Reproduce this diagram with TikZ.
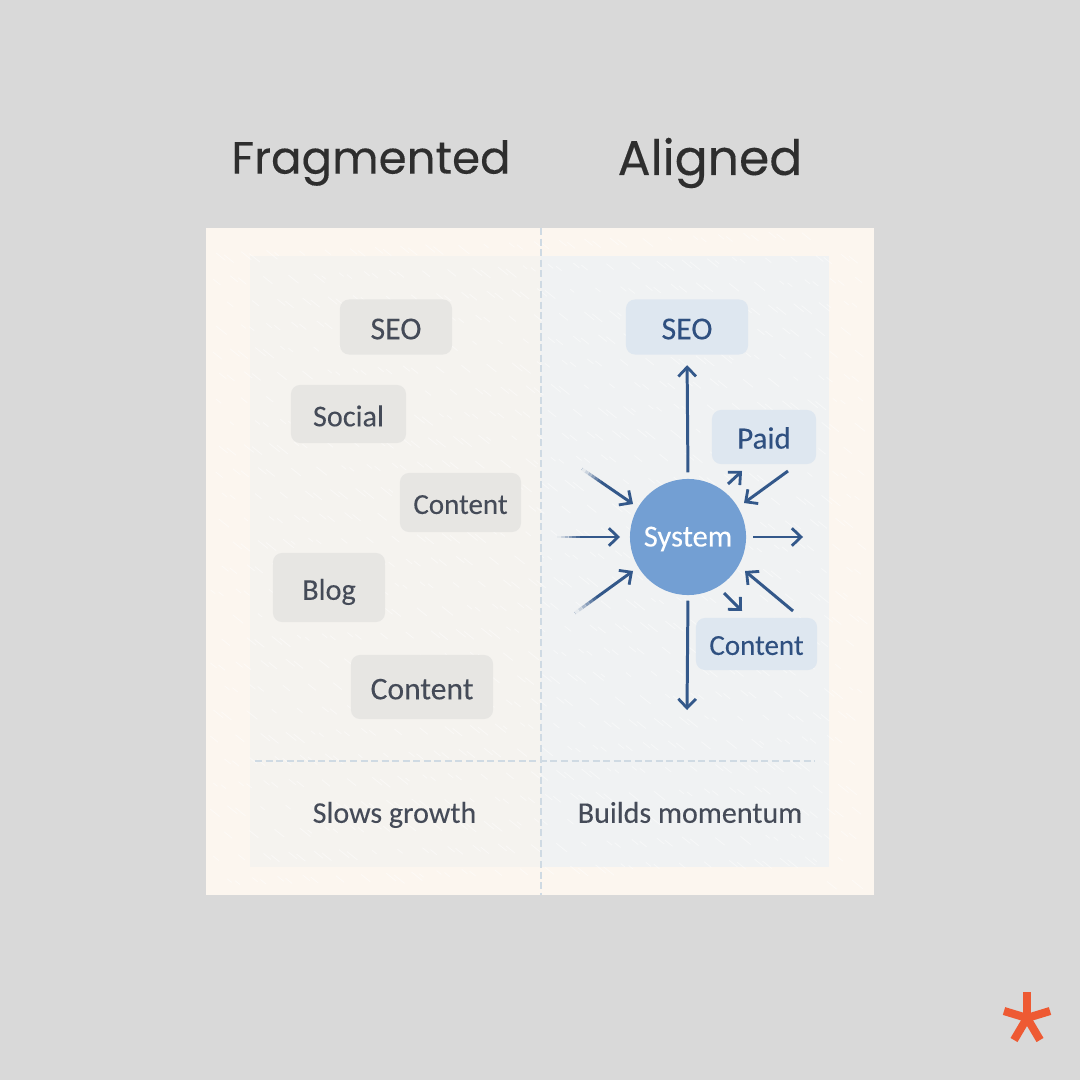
\documentclass[tikz,border=0pt]{standalone}
\usepackage{fontspec}
\usetikzlibrary{arrows.meta,calc}
\setmainfont[FakeBold=0.12]{Carlito}
\newfontfamily\titlefont[FakeBold=0.25]{Poppins}
\definecolor{bgc}{HTML}{D9D9D9}
\definecolor{paper}{HTML}{FCF6EF}
\definecolor{lpanel}{HTML}{F5F3EF}
\definecolor{rpanel}{HTML}{F0F2F3}
\definecolor{lbox}{HTML}{E7E6E3}
\definecolor{rbox}{HTML}{DEE7F0}
\definecolor{disc}{HTML}{739FD3}
\definecolor{ink}{HTML}{454B58}
\definecolor{blueink}{HTML}{2F5080}
\definecolor{arrowc}{HTML}{33588A}
\definecolor{dashc}{HTML}{CFDAE3}
\definecolor{starc}{HTML}{EE5A33}
\tikzset{
  x=0.01cm,y=-0.01cm,
  titletext/.style={text=black!82},
  leftbox/.style={fill=lbox,rounded corners=0.09cm,inner sep=0pt,text=ink,text height=7pt,text depth=0pt},
  rightbox/.style={fill=rbox,rounded corners=0.09cm,inner sep=0pt,text=blueink,text height=7pt,text depth=0pt},
  foottext/.style={font=\fontsize{8.55}{10}\selectfont,text=ink,text height=7pt,text depth=0pt},
  arr/.style={draw=arrowc,line width=0.85pt,-{Straight Barb[length=2.6pt,width=5pt,line width=0.8pt]}},
  guide/.style={draw=dashc,line width=0.3pt,dash pattern=on 2pt off 1pt},
  tailfade/.style={draw=rpanel,line width=1.3pt},
  starline/.style={draw=starc,line width=2.3pt},
}
\newcommand{\fadetail}[2]{%
  \foreach \s/\op in {0/0.95,0.06/0.8,0.12/0.62,0.18/0.45,0.24/0.28,0.30/0.12}{
    \path[tailfade,draw opacity=\op] ($(#1)!\s!(#2)$) -- ($(#1)!\s+0.065!(#2)$);
  }}
\begin{document}
\begin{tikzpicture}
\useasboundingbox (0,0) rectangle (1080,1080);
\fill[bgc] (0,0) rectangle (1080,1080);
\fill[paper] (206,228) rectangle (874,895);
\fill[lpanel] (250,256) rectangle (541,867);
\fill[rpanel] (541,256) rectangle (829,867);
% paper grain
\foreach \i in {1,...,1100}{
  \pgfmathsetmacro{\gx}{210+650*mod(\i*0.618034,1)}
  \pgfmathsetmacro{\gy}{232+650*mod(\i*0.754878,1)}
  \pgfmathsetmacro{\gl}{4+7*mod(\i*0.569840,1)}
  \draw[white,line width=0.25pt,opacity=0.45] (\gx,\gy) -- ++(\gl,\gl*0.8);
}
% titles
\node[titletext,font=\titlefont\fontsize{12.85}{16}\selectfont] (tleft) at (371,163) {Fragmented};
\node[titletext,font=\titlefont\fontsize{13.9}{16}\selectfont] (tright) at (710,163) {Aligned};
% dividers
\coordinate (vtop) at (541,228);
\coordinate (vbot) at (541,895);
\coordinate (hl) at (255,761);
\coordinate (hr) at (815,761);
\draw[guide] (vtop) -- (vbot);
\draw[guide] (hl) -- (hr);
% left boxes
\node[leftbox,minimum width=1.12cm,minimum height=0.55cm,font=\fontsize{9.1}{10}\selectfont] (lseo) at (396,327) {SEO};
\node[leftbox,minimum width=1.15cm,minimum height=0.58cm,font=\fontsize{8.6}{10}\selectfont] (lsocial) at (348.5,414) {Social};
\node[leftbox,minimum width=1.21cm,minimum height=0.59cm,font=\fontsize{8.25}{10}\selectfont,text height=6.5pt] (lcontent) at (460.5,502.5) {Content};
\node[leftbox,minimum width=1.12cm,minimum height=0.69cm,font=\fontsize{8.6}{10}\selectfont] (lblog) at (329,587.5) {Blog};
\node[leftbox,minimum width=1.42cm,minimum height=0.64cm,font=\fontsize{9}{11}\selectfont] (lcontentb) at (422,687) {Content};
% right boxes
\node[rightbox,minimum width=1.22cm,minimum height=0.55cm,font=\fontsize{9.1}{10}\selectfont] (rseo) at (687,327) {SEO};
\node[rightbox,minimum width=1.04cm,minimum height=0.54cm,font=\fontsize{8.8}{10}\selectfont,text height=6.6pt] (rpaid) at (764,437) {Paid};
\node[rightbox,minimum width=1.21cm,minimum height=0.52cm,font=\fontsize{8.25}{10}\selectfont,text height=6.2pt] (rcontent) at (756.5,644) {Content};
\node[circle,fill=disc,minimum size=1.16cm,inner sep=0pt,text=white,font=\fontsize{8.7}{10}\selectfont,text height=5.4pt,text depth=0pt] (sys) at (688,537) {System};
% free ends
\coordinate (inul) at (582,469);
\coordinate (inl) at (557,537);
\coordinate (inll) at (575,613);
\coordinate (inpaid) at (788,471);
\coordinate (incontent) at (793,611);
\coordinate (outr) at (803,537);
\coordinate (outd) at (687,710);
\coordinate (sysul) at (633,504);
\coordinate (sysl) at (620,537);
\coordinate (sysll) at (633,571);
\coordinate (sysur) at (744,503);
\coordinate (syslr) at (745,571);
\coordinate (paidf) at (742,471);
\coordinate (paidt) at (728,484);
\coordinate (contf) at (724,593);
\coordinate (contt) at (742,611);
\coordinate (sysr) at (753,537);
% connectors
\draw[arr,shorten <=0.06cm,shorten >=0.1cm] (sys.north) -- (rseo.south);
\draw[arr,shorten <=0.05cm] (sys.south) -- (outd);
\draw[arr] (sysr) -- (outr);
\draw[arr] (paidt) -- (paidf);
\draw[arr] (contf) -- (contt);
\draw[arr] (inul) -- (sysul);
\draw[arr] (inl) -- (sysl);
\draw[arr] (inll) -- (sysll);
\draw[arr] (inpaid) -- (sysur);
\draw[arr] (incontent) -- (syslr);
\fadetail{inul}{sysul}
\fadetail{inl}{sysl}
\fadetail{inll}{sysll}
% footers
\node[foottext] (fleft) at (394.5,810.5) {Slows growth};
\node[foottext] (fright) at (690,810.5) {Builds momentum};
% star
\coordinate (sc) at (1027,1018);
\coordinate (s1) at (1027,992);
\coordinate (s2) at (1050,1011);
\coordinate (s3) at (1040,1040);
\coordinate (s4) at (1014,1040);
\coordinate (s5) at (1004,1011);
\foreach \e in {s1,s2,s3,s4,s5}{\draw[starline] (sc) -- (\e);}
\end{tikzpicture}
\end{document}
